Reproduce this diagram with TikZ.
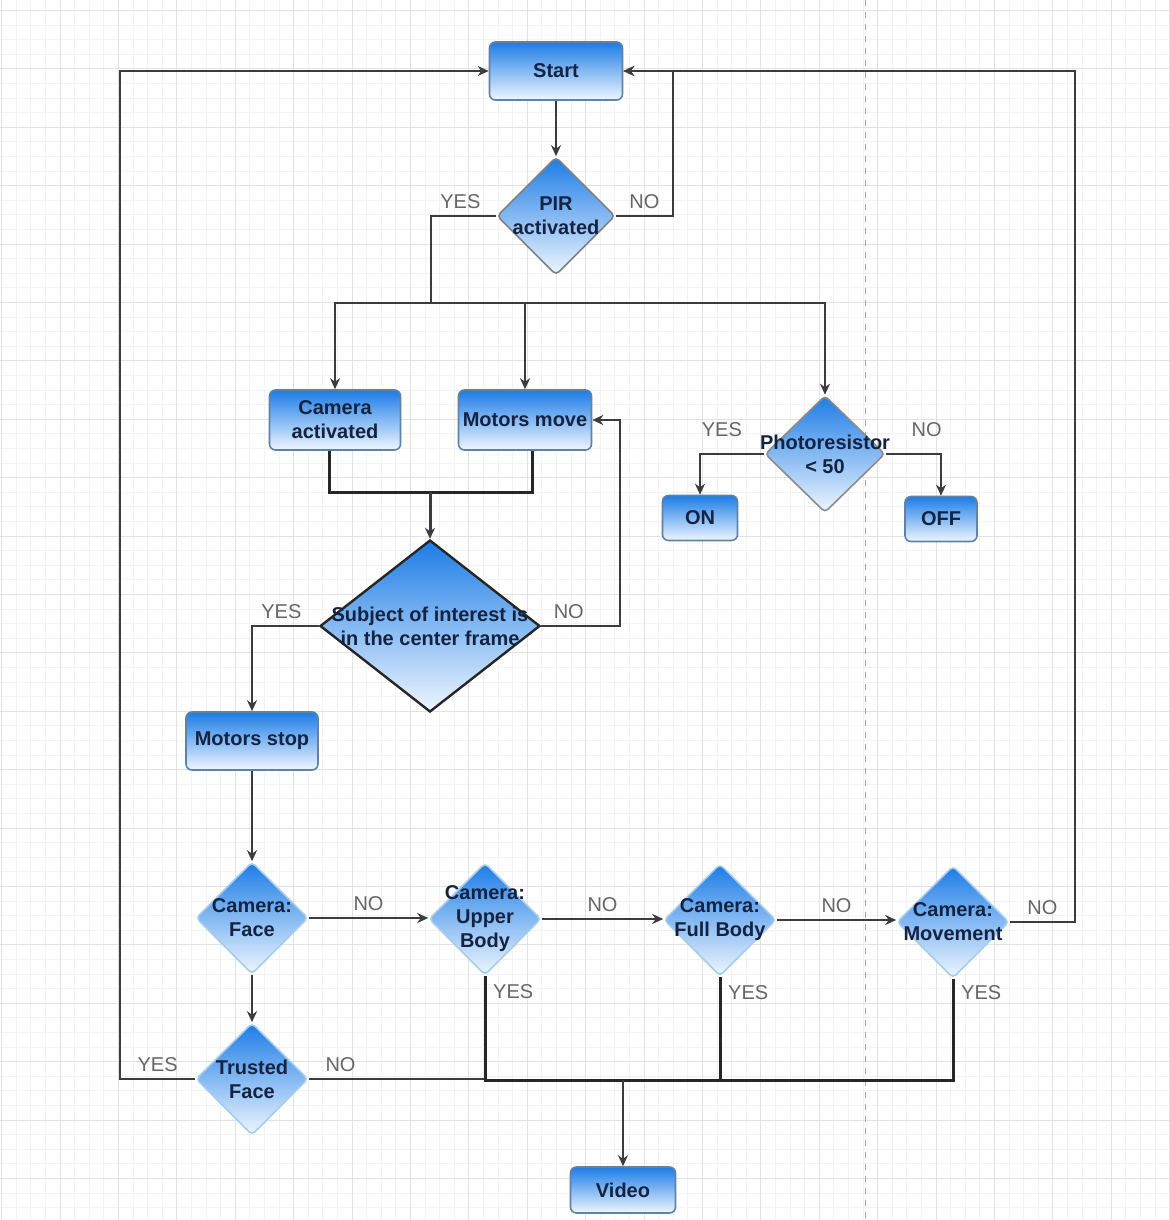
\documentclass[tikz,border=0pt]{standalone}
\usepackage{fontspec}
\setmainfont{Liberation Sans}
\usetikzlibrary{shapes.geometric,arrows.meta}
\definecolor{flowtop}{RGB}{28,124,230}
\definecolor{flowmid}{RGB}{110,172,240}
\definecolor{flowbot}{RGB}{238,246,255}
\definecolor{boxline}{RGB}{95,130,165}
\definecolor{glowline}{RGB}{165,205,235}
\definecolor{navytext}{RGB}{20,35,65}
\definecolor{edgegrey}{RGB}{60,60,60}
\definecolor{gridminor}{RGB}{242,242,242}
\definecolor{gridmajor}{RGB}{226,226,226}
\tikzset{
    box/.style={rectangle, rounded corners=3pt, draw=boxline, line width=0.8pt,
        top color=flowtop, middle color=flowmid, bottom color=flowbot,
        font=\bfseries, text=navytext, align=center, inner sep=0pt},
    dec/.style={diamond, draw=glowline, line width=0.8pt, rounded corners=2pt,
        top color=flowtop, middle color=flowmid, bottom color=flowbot, inner sep=0pt},
    dectext/.style={font=\bfseries, text=navytext, align=center},
    flow/.style={draw=edgegrey, line width=1pt, -{Stealth[length=5.5pt,width=5pt]}},
    link/.style={draw=edgegrey, line width=1pt},
    bus/.style={draw=black!85, line width=1.5pt},
    lbl/.style={text=black!60}
}
\begin{document}
\begin{tikzpicture}[x=0.5pt,y=-0.5pt]
    \useasboundingbox (0,0) rectangle (1170,1220);

    % 背景网格
    \fill[white] (0,0) rectangle (1170,1220);
    \foreach \i in {0,...,80} {
        \draw[gridminor, line width=0.4pt] ({1.6+\i*14.6},0) -- ({1.6+\i*14.6},1220);
    }
    \foreach \j in {0,...,83} {
        \draw[gridminor, line width=0.4pt] (0,{10.4+\j*14.6}) -- (1170,{10.4+\j*14.6});
    }
    \foreach \i in {0,...,20} {
        \draw[gridmajor, line width=0.5pt] ({1.6+\i*58.4},0) -- ({1.6+\i*58.4},1220);
    }
    \foreach \j in {0,...,20} {
        \draw[gridmajor, line width=0.5pt] (0,{10.4+\j*58.4}) -- (1170,{10.4+\j*58.4});
    }
    \draw[black!35, dashed, line width=0.5pt] (865,0) -- (865,1220);

    % 节点
    \node[box, minimum width=66.5pt, minimum height=29pt] (start) at (556,71) {Start};
    \node[dec, draw=black!50, minimum width=59pt, minimum height=59pt,
        label={[dectext]center:{PIR\\activated}}] (pir) at (556,216) {};
    \node[box, minimum width=65.5pt, minimum height=30pt] (cam) at (335,420) {Camera\\activated};
    \node[box, minimum width=66.5pt, minimum height=30pt] (mot) at (525,420) {Motors move};
    \node[dec, draw=black!45, minimum width=60pt, minimum height=58.5pt,
        label={[dectext]center:{Photoresistor\\< 50}}] (photo) at (825,454) {};
    \node[box, minimum width=37.5pt, minimum height=22.5pt] (on) at (700,518) {ON};
    \node[box, minimum width=36pt, minimum height=22.5pt] (off) at (941,519) {OFF};
    \node[dec, draw=black!85, line width=1.2pt, rounded corners=0pt,
        minimum width=110pt, minimum height=86pt,
        label={[dectext]center:{Subject of interest is\\in the center frame}}] (subj) at (430,626) {};
    \node[box, minimum width=66pt, minimum height=29pt] (stop) at (252,741) {Motors stop};
    \node[dec, minimum width=56pt, minimum height=56pt,
        label={[dectext]center:{Camera:\\Face}}] (face) at (252,918) {};
    \node[dec, minimum width=56pt, minimum height=56pt,
        label={[dectext]center:{Camera:\\Upper\\Body}}] (upper) at (485,919) {};
    \node[dec, minimum width=56pt, minimum height=56pt,
        label={[dectext]center:{Camera:\\Full Body}}] (full) at (720,920) {};
    \node[dec, minimum width=56pt, minimum height=56pt,
        label={[dectext]center:{Camera:\\Movement}}] (move) at (953,922) {};
    \node[dec, minimum width=56pt, minimum height=56pt,
        label={[dectext]center:{Trusted\\Face}}] (trust) at (252,1079) {};
    \node[box, minimum width=52.5pt, minimum height=23pt] (video) at (623,1190) {Video};

    % 拐点
    \coordinate (pirno) at (673,216);
    \coordinate (piryes) at (431,216);
    \coordinate (split) at (431,303);
    \coordinate (join) at (430,492);
    \coordinate (subjno) at (620,626);
    \coordinate (moveno) at (1075,922);
    \coordinate (trustyes) at (120,1079);
    \coordinate (merge) at (485,1080);

    % 上半部分连线
    \draw[flow] (start) -- (pir);
    \draw[flow] (pir.east) -- node[lbl, above] {NO} (pirno) |- (start.east);
    \draw[link] (pir.west) -- node[lbl, above, pos=0.55] {YES} (piryes) -- (split);
    \draw[flow] (split) -| (cam.north);
    \draw[flow] (split) -| (mot.north);
    \draw[flow] (split) -| (photo.north);
    \draw[flow] (photo.west) -| node[lbl, above=5pt, pos=0.33] {YES} (on.north);
    \draw[flow] (photo.east) -| node[lbl, above=5pt, pos=0.37] {NO} (off.north);

    % 汇合到判断框
    \draw[bus] ([xshift=-3pt]cam.south) |- (join) -| ([xshift=3.5pt]mot.south);
    \draw[flow, line width=1.5pt] (join) -- (subj.north);
    \draw[flow] (subj.east) -- node[lbl, above, pos=0.35] {NO} (subjno) |- (mot.east);
    \draw[flow] (subj.west) -| node[lbl, above, pos=0.28] {YES} (stop.north);
    \draw[flow] (stop) -- (face);

    % 摄像头判断
    \draw[flow] (face.east) -- node[lbl, above] {NO} (face.east -| upper.west);
    \draw[flow] (upper.east) -- node[lbl, above] {NO} (upper.east -| full.west);
    \draw[flow] (full.east) -- node[lbl, above] {NO} (full.east -| move.west);
    \draw[flow] (move.east) -- node[lbl, above] {NO} (moveno) |- (start.east);
    \draw[flow] (face) -- (trust);
    \draw[flow] (trust.west) -- node[lbl, above] {YES} (trustyes) |- (start.west);
    \draw[link] (trust.east) -- node[lbl, above, pos=0.18] {NO} (trust.east -| merge);

    % 汇合到 Video
    \draw[bus] (upper.south) -- node[lbl, right, pos=0.15] {YES} (merge) -| (move.south)
        node[lbl, right, pos=0.93] {YES};
    \draw[bus] (full.south) -- node[lbl, right, pos=0.15] {YES} (full.south |- merge);
    \draw[flow] (merge -| video.north) -- (video.north);
\end{tikzpicture}
\end{document}
